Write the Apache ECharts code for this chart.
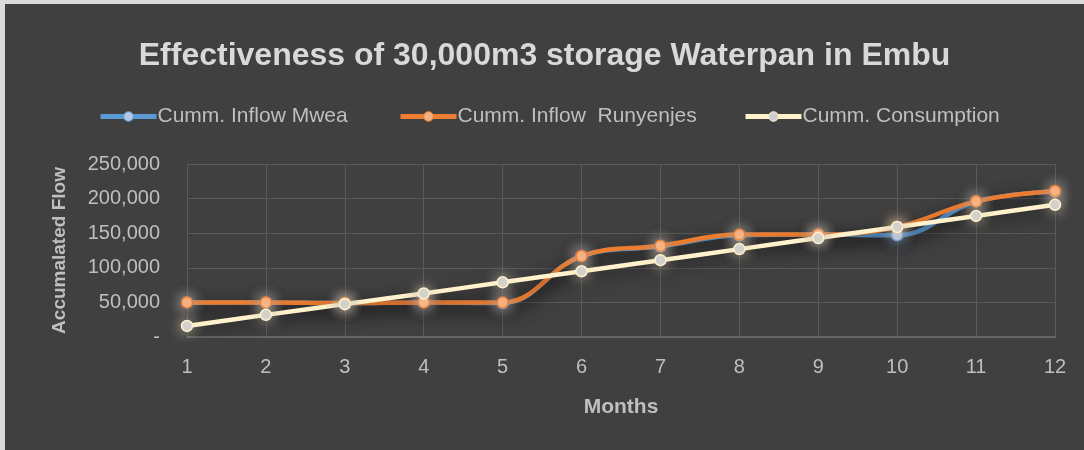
<!DOCTYPE html>
<html>
<head>
<meta charset="utf-8">
<script src="https://cdn.jsdelivr.net/npm/echarts@6/dist/echarts.min.js"></script>
<style>
  html, body { margin: 0; padding: 0; background: #dadada; }
  #chart { position: absolute; left: 5px; top: 4px; width: 1079px; height: 446px; background: #404040; }
</style>
</head>
<body>
<div id="chart"></div>
<script>
// months on the x axis
const months = ['1', '2', '3', '4', '5', '6', '7', '8', '9', '10', '11', '12'];
// cumulative flows
const inflowMwea = [50000, 50000, 49000, 50000, 49000, 117000, 131000, 147000, 148000, 147000, 196000, 210000];
const inflowRunyenjes = [50000, 50000, 49000, 50000, 50000, 117000, 132000, 148000, 148000, 159000, 196000, 211000];
const consumption = [16000, 32000, 47500, 63000, 79000, 95000, 111000, 127000, 143000, 159000, 175000, 191000];
const seriesNames = ['Cumm. Inflow Mwea', 'Cumm. Inflow  Runyenjes', 'Cumm. Consumption'];

const font = 'Liberation Sans';
const textColor = '#bfbfbf';

function lineSeries(name, data, lineColor, dotColor, glow) {
  return {
    name: name,
    type: 'line',
    smooth: 0.4,
    data: data,
    symbol: 'circle',
    symbolSize: 11,
    lineStyle: { width: 4.5, color: lineColor, shadowColor: 'rgba(0,0,0,0.5)', shadowBlur: 16, shadowOffsetY: 6 },
    itemStyle: { color: dotColor, borderColor: lineColor, borderWidth: 1.5, shadowColor: glow, shadowBlur: 14 },
    emphasis: { disabled: true }
  };
}

function legendAt(left, name) {
  return {
    data: [name],
    left: left,
    top: 97,
    itemWidth: 56,
    itemHeight: 12,
    itemGap: 0,
    lineStyle: { width: 5 },
    itemStyle: { borderWidth: 1 },
    textStyle: { color: textColor, fontFamily: font, fontSize: 21, padding: [0, 0, 0, -4] },
    selectedMode: false
  };
}

const chart = echarts.init(document.getElementById('chart'));
chart.setOption({
  animation: false,
  backgroundColor: '#404040',
  title: {
    text: 'Effectiveness of 30,000m3 storage Waterpan in Embu',
    left: 'center',
    top: 31,
    textStyle: { color: '#d9d9d9', fontFamily: font, fontSize: 32, fontWeight: 'bold' }
  },
  legend: [
    legendAt(88, seriesNames[0]),
    legendAt(388, seriesNames[1]),
    legendAt(733, seriesNames[2])
  ],
  grid: { left: 182, top: 160, width: 868, height: 173 },
  xAxis: {
    type: 'category',
    data: months,
    boundaryGap: false,
    name: 'Months',
    nameLocation: 'middle',
    nameGap: 60,
    nameTextStyle: { color: textColor, fontFamily: font, fontSize: 21, fontWeight: 'bold' },
    axisLine: { lineStyle: { color: '#707070', width: 1.5 } },
    axisTick: { show: false },
    axisLabel: { color: textColor, fontFamily: font, fontSize: 20, margin: 20 },
    splitLine: { show: true, lineStyle: { color: '#5a5a5a', width: 1 } }
  },
  yAxis: {
    type: 'value',
    min: 0,
    max: 250000,
    interval: 50000,
    name: 'Accumalated Flow',
    nameLocation: 'middle',
    nameGap: 118,
    nameTextStyle: { color: textColor, fontFamily: font, fontSize: 19, fontWeight: 'bold' },
    axisLine: { show: true, lineStyle: { color: '#5a5a5a' } },
    axisTick: { show: false },
    axisLabel: {
      color: textColor, fontFamily: font, fontSize: 20, margin: 27,
      formatter: function (v) { return v === 0 ? '-' : v.toLocaleString('en-US'); }
    },
    splitLine: { lineStyle: { color: '#5a5a5a', width: 1 } }
  },
  series: [
    lineSeries(seriesNames[0], inflowMwea, '#5b9bd5', '#b4c7e7', 'rgba(91,155,213,0.8)'),
    lineSeries(seriesNames[1], inflowRunyenjes, '#ed7d31', '#f4b183', 'rgba(244,177,131,0.8)'),
    lineSeries(seriesNames[2], consumption, '#fff2cc', '#d0cece', 'rgba(255,242,204,0.7)')
  ]
});
window.addEventListener('resize', function () { chart.resize(); });
</script>
</body>
</html>
